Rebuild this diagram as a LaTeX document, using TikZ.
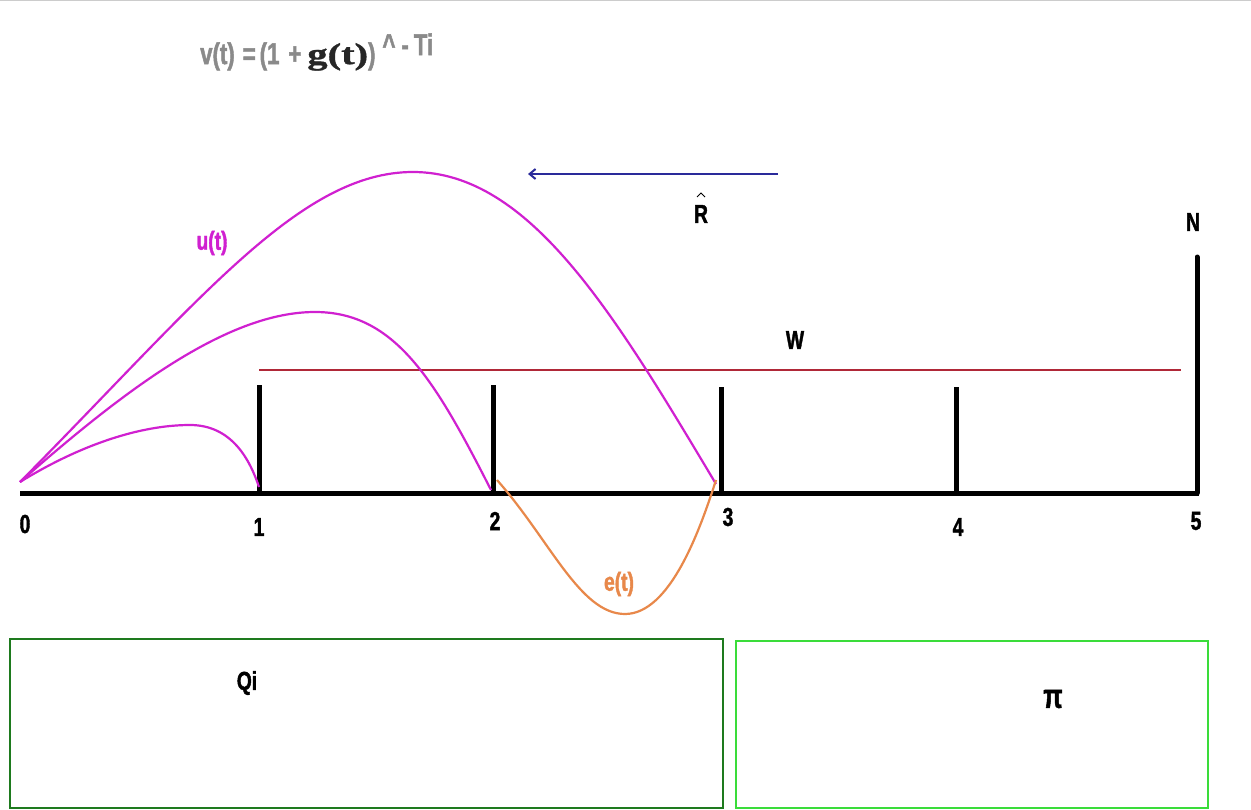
\documentclass[tikz,border=0pt]{standalone}
\usepackage{fontspec}
\setmainfont[FakeStretch=0.74,BoldFeatures={FakeBold=1.5}]{Liberation Sans}
\newfontfamily\gfont[BoldFeatures={FakeBold=1}]{Liberation Serif}
\usetikzlibrary{arrows.meta}
\definecolor{mag}{HTML}{D020D0}
\definecolor{wred}{HTML}{B02838}
\definecolor{rblue}{HTML}{2A2A9A}
\definecolor{eor}{HTML}{E8884A}
\definecolor{dgreen}{HTML}{1E7A1E}
\definecolor{bgreen}{HTML}{3ADC3A}
\definecolor{fgray}{HTML}{8A8A8A}
\tikzset{
  lbl/.style={font=\fontsize{26}{28}\selectfont\bfseries, inner sep=0pt},
  tick/.style={line width=5pt, black},
  ucurve/.style={mag, line width=2.2pt},
}
\begin{document}
\begin{tikzpicture}[x=1pt,y=-1pt]
\useasboundingbox (0,0) rectangle (1251,809);
\fill[white] (0,0) rectangle (1251,809);
\draw[gray!40, line width=1pt] (0,0.5) -- (1251,0.5);
% formula
\node[lbl, fgray, anchor=west, font=\fontsize{30}{32}\selectfont\bfseries] (f) at (200,52) {v(t)\hspace{8pt}=\hspace{4pt}(1\hspace{9pt}+\hspace{6pt}\textcolor{black!85}{\scalebox{1.35}[1]{\gfont g(t)}})\hspace{7pt}\raisebox{9pt}{\^{}\hspace{6pt}-\hspace{5pt}Ti}};
% axis
\coordinate (a0) at (20,493);
\coordinate (a5) at (1199,493);
\draw[tick] (a0) -- (a5);
\coordinate (t1) at (259,385); \coordinate (b1) at (259,493);
\coordinate (t2) at (493,385); \coordinate (b2) at (493,493);
\coordinate (t3) at (721,387); \coordinate (b3) at (721,493);
\coordinate (t4) at (956,387); \coordinate (b4) at (956,493);
\coordinate (t5) at (1197,257); \coordinate (b5) at (1197,493);
\draw[tick] (b1) -- (t1);
\draw[tick] (b2) -- (t2);
\draw[tick] (b3) -- (t3);
\draw[tick] (b4) -- (t4);
\draw[tick, line cap=round] (b5) -- (t5);
\node[lbl] (n0) at (25,524) {0};
\node[lbl] (n1) at (259,527) {1};
\node[lbl] (n2) at (495,521) {2};
\node[lbl] (n3) at (728,517) {3};
\node[lbl] (n4) at (958,527) {4};
\node[lbl] (n5) at (1196,521) {5};
\node[lbl] (N) at (1193,222) {N};
% W line
\coordinate (w0) at (259,370); \coordinate (w1) at (1181,370);
\draw[wred, line width=2pt] (w0) -- (w1);
\node[lbl] (W) at (795,340) {W};
% R arrow
\coordinate (r0) at (778,174); \coordinate (r1) at (528,174);
\draw[rblue, line width=2pt, -{Straight Barb[length=6pt,width=10pt]}] (r0) -- (r1);
\node[lbl] (R) at (701,214) {R};
\draw[black, line width=1pt] ([xshift=-4pt,yshift=17pt]R.center) -- ([yshift=21pt]R.center) -- ([xshift=4pt,yshift=17pt]R.center);
% u curves
\coordinate (o) at (20,482);
\draw[ucurve] (o) .. controls (200,300) and (300,172) .. (413,172) .. controls (530,172) and (615,315) .. (716,484);
\draw[ucurve] (o) .. controls (130,385) and (230,312) .. (315,312) .. controls (395,312) and (435,380) .. (491,490);
\draw[ucurve] (o) .. controls (80,445) and (140,425) .. (190,425) .. controls (232,425) and (250,460) .. (259,487);
\node[lbl, mag] (u) at (212,243) {u(t)};
% e curve
\draw[eor, line width=2.2pt] (497,480) .. controls (550,540) and (580,614) .. (625,614) .. controls (670,614) and (700,530) .. (716,480);
\node[lbl, eor] (e) at (619,584) {e(t)};
% boxes
\draw[dgreen, line width=2.5pt] (10,639) rectangle (723,808);
\draw[bgreen, line width=2.5pt] (736,641) rectangle (1208,808);
\node[lbl] (Q) at (247,683) {Qi};
\node[lbl, font=\fontsize{34}{36}\selectfont\bfseries] (P) at (1053,699) {π};
\end{tikzpicture}
\end{document}
